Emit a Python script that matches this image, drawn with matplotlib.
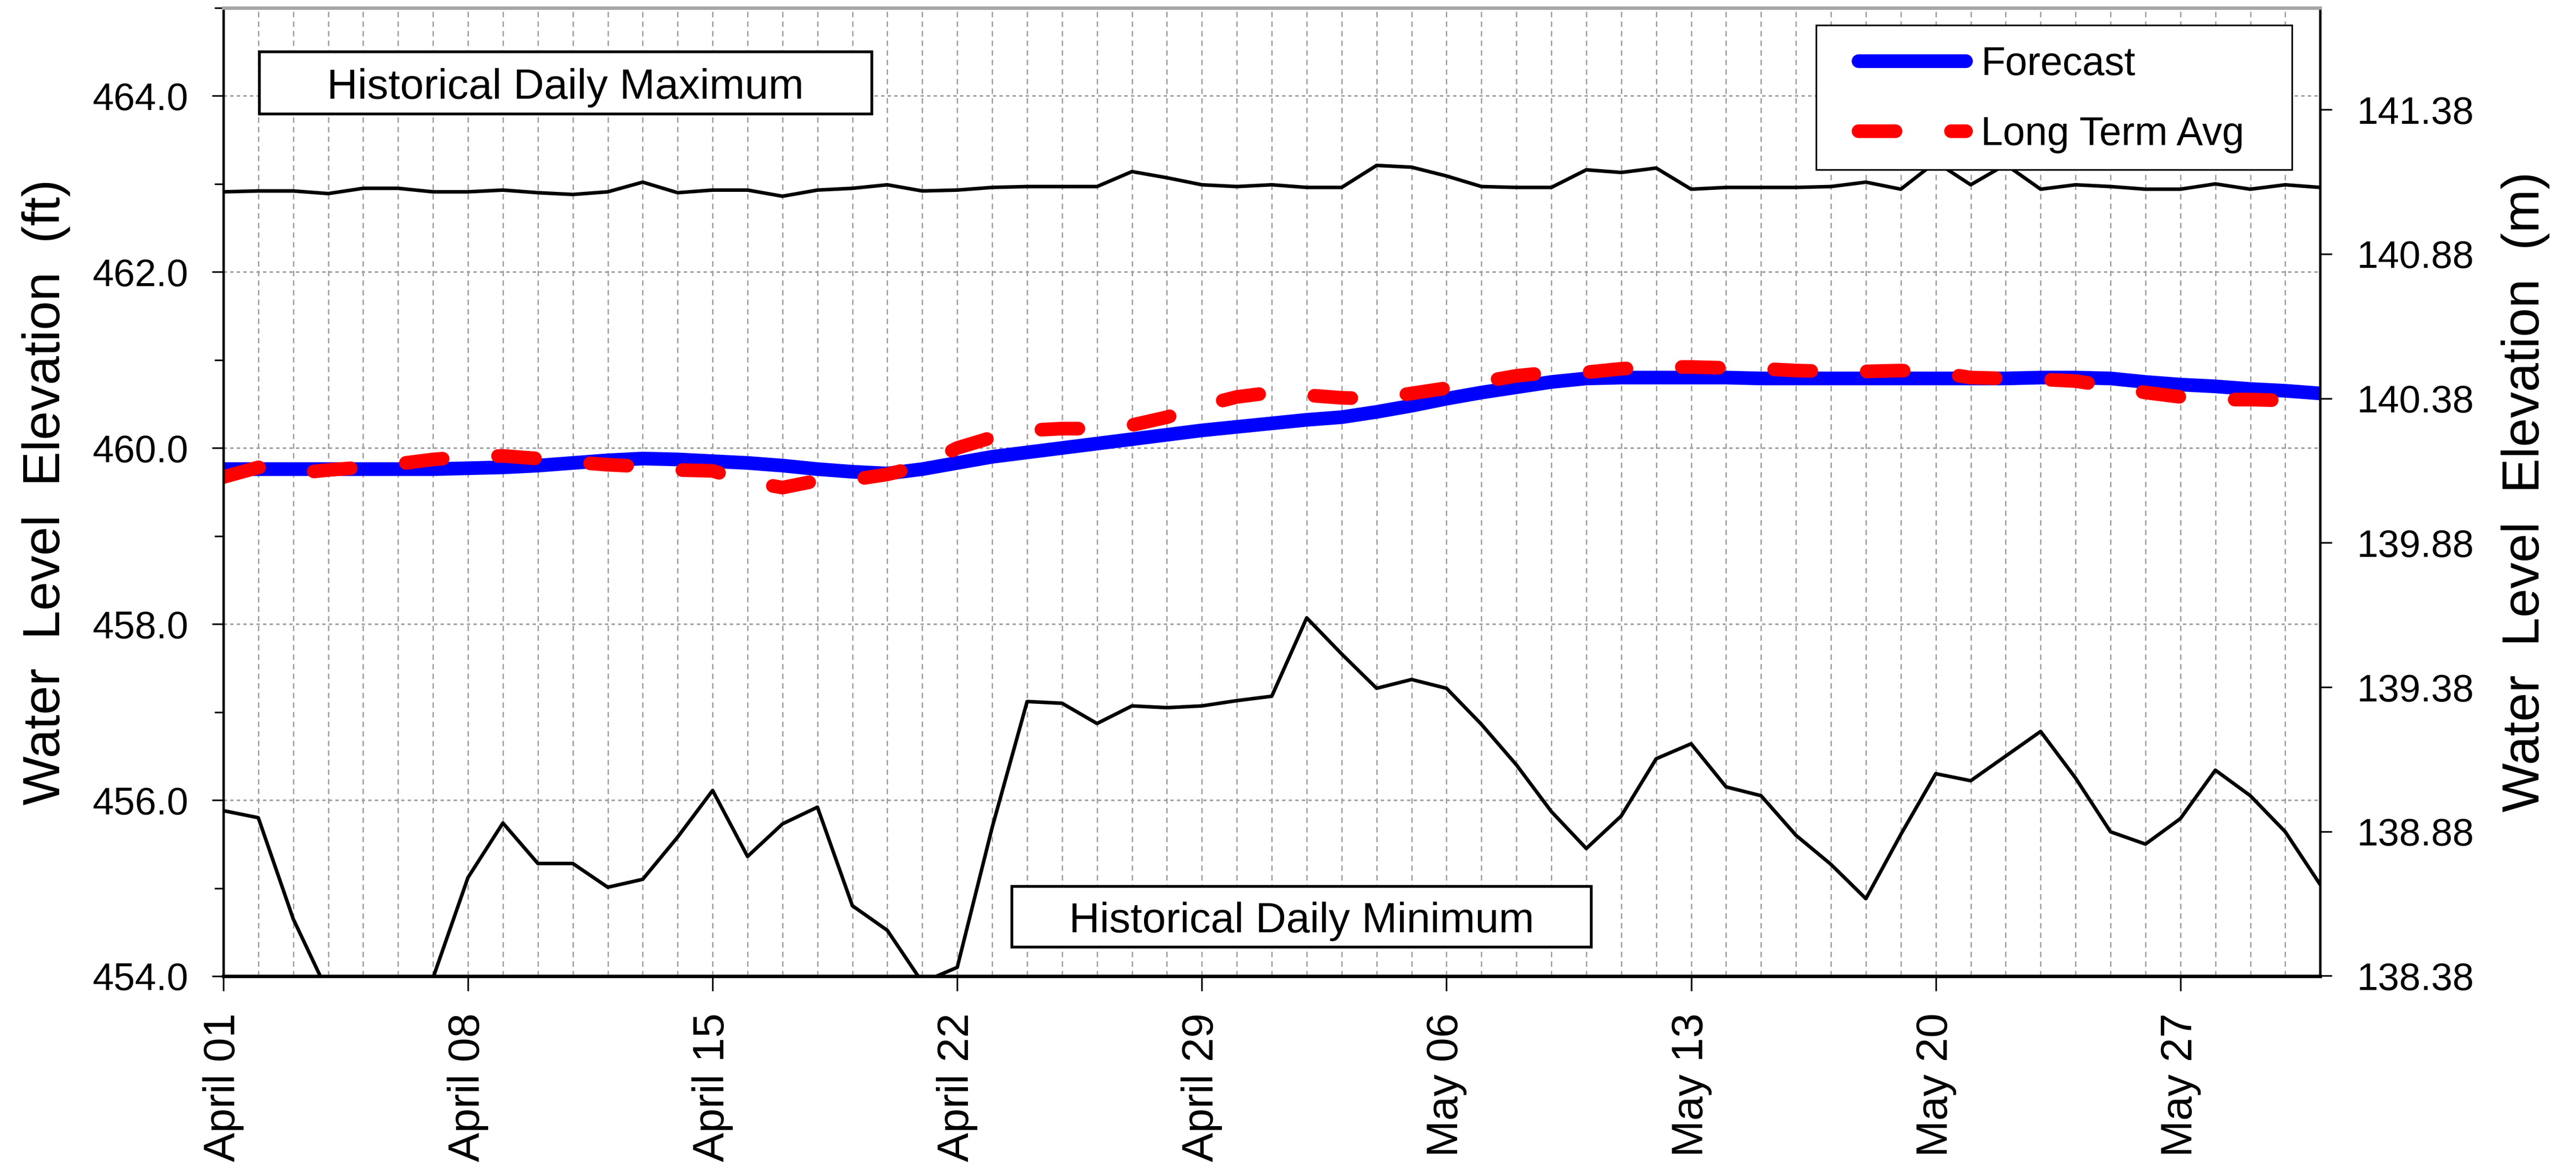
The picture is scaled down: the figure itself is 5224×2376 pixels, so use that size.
import matplotlib
matplotlib.use("Agg")
import matplotlib.pyplot as plt
from matplotlib.patches import Rectangle
from matplotlib.ticker import MultipleLocator, FormatStrFormatter

plt.rcParams['font.family'] = ['Liberation Sans', 'DejaVu Sans']

# day index 0 = April 01 ... 60 = May 31
days = list(range(61))
tick_days = [0, 7, 14, 21, 28, 35, 42, 49, 56]
tick_labels = ['April 01', 'April 08', 'April 15', 'April 22', 'April 29',
               'May 06', 'May 13', 'May 20', 'May 27']

hist_max = [462.91, 462.92, 462.92, 462.89, 462.95, 462.95, 462.91, 462.91, 462.93, 462.90,
            462.88, 462.91, 463.02, 462.90, 462.93, 462.93, 462.86, 462.93, 462.95, 462.99,
            462.92, 462.93, 462.96, 462.97, 462.97, 462.97, 463.14, 463.07, 462.99, 462.97,
            462.99, 462.96, 462.96, 463.21, 463.19, 463.09, 462.97, 462.96, 462.96, 463.16,
            463.13, 463.18, 462.94, 462.96, 462.96, 462.96, 462.97, 463.02, 462.94, 463.25,
            462.99, 463.22, 462.94, 462.99, 462.97, 462.94, 462.94, 463.00, 462.94, 462.99,
            462.96]

hist_min = [455.88, 455.80, 454.65, 453.81, 453.50, 453.40, 453.98, 455.12, 455.74, 455.28,
            455.28, 455.01, 455.10, 455.58, 456.11, 455.36, 455.73, 455.92, 454.80, 454.52,
            453.93, 454.10, 455.69, 457.12, 457.10, 456.87, 457.07, 457.05, 457.07, 457.13,
            457.18, 458.07, 457.66, 457.27, 457.37, 457.27, 456.86, 456.40, 455.87, 455.45,
            455.82, 456.47, 456.64, 456.15, 456.05, 455.60, 455.27, 454.88, 455.61, 456.30,
            456.22, 456.50, 456.78, 456.25, 455.64, 455.50, 455.79, 456.34, 456.05, 455.64,
            455.04]

forecast = [459.76, 459.76, 459.76, 459.76, 459.76, 459.76, 459.76, 459.77, 459.78, 459.80,
            459.83, 459.86, 459.88, 459.87, 459.85, 459.83, 459.80, 459.76, 459.73, 459.71,
            459.76, 459.83, 459.90, 459.95, 460.00, 460.05, 460.10, 460.15, 460.20, 460.24,
            460.28, 460.32, 460.35, 460.41, 460.48, 460.56, 460.63, 460.69, 460.75, 460.79,
            460.80, 460.80, 460.80, 460.80, 460.79, 460.79, 460.79, 460.79, 460.79, 460.79,
            460.79, 460.79, 460.80, 460.80, 460.79, 460.75, 460.72, 460.70, 460.67, 460.65,
            460.62]

long_term_avg = [459.67, 459.78, 459.71, 459.75, 459.78, 459.82, 459.87, 459.90, 459.91, 459.88,
                 459.84, 459.81, 459.79, 459.75, 459.74, 459.62, 459.55, 459.63, 459.64, 459.70,
                 459.80, 460.00, 460.12, 460.20, 460.22, 460.22, 460.26, 460.35, 460.48, 460.58,
                 460.63, 460.60, 460.57, 460.56, 460.62, 460.68, 460.75, 460.82, 460.86, 460.86,
                 460.90, 460.92, 460.92, 460.91, 460.90, 460.88, 460.87, 460.87, 460.88, 460.86,
                 460.80, 460.79, 460.78, 460.76, 460.70, 460.63, 460.58, 460.55, 460.55, 460.54,
                 460.53]

ft_per_m = 3.28084
m_ticks = [138.38, 138.88, 139.38, 139.88, 140.38, 140.88, 141.38]

fig = plt.figure(figsize=(13.06, 5.94), dpi=400)
ax = fig.add_axes([0.0867, 0.1671, 0.8140, 0.8262])

ax.plot(days, hist_max, color='black', lw=1.3, zorder=3)
ax.plot(days, hist_min, color='black', lw=1.3, zorder=3)
blue, = ax.plot(days, forecast, color='#0000ff', lw=5, solid_capstyle='round',
                zorder=3, label='Forecast')
red, = ax.plot(days, long_term_avg, color='#ff0000', lw=5, dashes=(2.7, 4.05),
               dash_capstyle='round', zorder=3.5, label='Long Term Avg')

ax.set_xlim(0, 60)
ax.set_ylim(454, 465)
ax.set_xticks(tick_days)
ax.set_xticklabels(tick_labels, rotation=90, fontsize=16)
ax.xaxis.set_minor_locator(MultipleLocator(1))
ax.set_yticks([454, 456, 458, 460, 462, 464])
ax.yaxis.set_major_formatter(FormatStrFormatter('%.1f'))
ax.yaxis.set_minor_locator(MultipleLocator(1))

ax.tick_params(axis='x', which='major', direction='out', length=5.4, width=0.6, pad=8)
ax.tick_params(axis='x', which='minor', length=0)
ax.tick_params(axis='y', which='major', direction='out', length=4.2, width=0.6,
               pad=8.6, labelsize=14)
ax.tick_params(axis='y', which='minor', direction='out', length=3.3, width=0.6)

ax.set_axisbelow(True)
ax.grid(which='both', axis='x', color='#a0a0a0', lw=0.5, ls=(0, (4, 3)))
ax.grid(which='major', axis='y', color='#a0a0a0', lw=0.6, ls=(0, (2, 2)))

ax.set_ylabel('Water  Level  Elevation  (ft)', fontsize=19, labelpad=8)

ax2 = ax.twinx()
ax2.set_ylim(454 / ft_per_m, 465 / ft_per_m)
ax2.set_yticks(m_ticks)
ax2.yaxis.set_major_formatter(FormatStrFormatter('%.2f'))
ax2.tick_params(axis='y', direction='out', length=4.3, width=0.6, pad=9, labelsize=14)
ax2.set_ylabel('Water  Level  Elevation  (m)', fontsize=19, labelpad=10)

for a in (ax, ax2):
    a.spines['top'].set_color('#a6a6a6')
    a.spines['top'].set_linewidth(1.2)
    a.spines['bottom'].set_linewidth(1.2)
    a.spines['left'].set_linewidth(0.9)
    a.spines['right'].set_linewidth(0.9)

# annotation boxes
ax.add_patch(Rectangle((0.0172, 0.8905), 0.2921, 0.0642, transform=ax.transAxes,
                       fc='white', ec='black', lw=1.0, zorder=5))
ax.text(0.163, 0.9063, 'Historical Daily Maximum', transform=ax.transAxes,
        ha='center', va='baseline', fontsize=15.5, zorder=6)
ax.add_patch(Rectangle((0.3761, 0.0301), 0.2763, 0.0626, transform=ax.transAxes,
                       fc='white', ec='black', lw=1.0, zorder=5))
ax.text(0.5142, 0.0451, 'Historical Daily Minimum', transform=ax.transAxes,
        ha='center', va='baseline', fontsize=15.5, zorder=6)

# legend
ax.add_patch(Rectangle((0.7596, 0.8329), 0.2270, 0.1493, transform=ax.transAxes,
                       fc='white', ec='black', lw=0.6, zorder=5))
leg = ax.legend(handles=[blue, red], loc='upper left', bbox_to_anchor=(0.7799, 0.9608),
                frameon=False, borderpad=0, borderaxespad=0, handlelength=2.7,
                handletextpad=0.38, labelspacing=0.82, fontsize=14.5)
leg.set_zorder(6)

fig.savefig('out.png', dpi=400)
